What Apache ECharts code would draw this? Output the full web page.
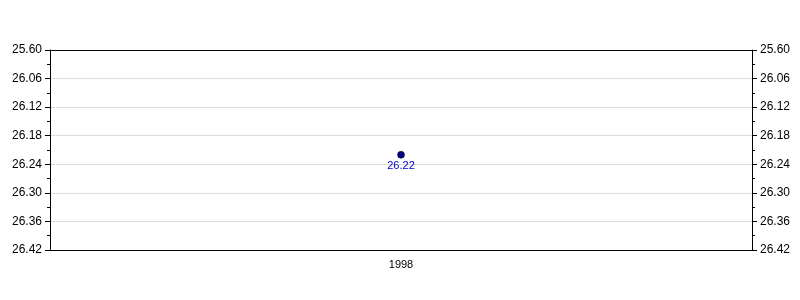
<!DOCTYPE html>
<html><head><meta charset="utf-8">
<script src="https://cdn.jsdelivr.net/npm/echarts@6/dist/echarts.min.js"></script>
<style>html,body{margin:0;padding:0;background:#fff}#c{width:800px;height:300px}</style>
</head><body><div id="c"></div>
<script>
const categories = ["1998"];
const values = [26.22];
const tickLabels = ["25.60","26.06","26.12","26.18","26.24","26.30","26.36","26.42"];
const yMin = 26.00, yMax = 26.42, yStep = 0.06;

function fmt(v){
  const i = Math.round((v - yMin) / yStep);
  return tickLabels[i] !== undefined ? tickLabels[i] : '';
}
const font = 'Liberation Sans, Arial, sans-serif';
function yAxis(pos, showGrid){
  return {
    type:'value', position:pos, inverse:true, min:yMin, max:yMax, interval:yStep,
    axisLine:{show:true, lineStyle:{color:'#000', width:1}},
    axisTick:{show:true, length:5, lineStyle:{color:'#000'}},
    minorTick:{show:true, splitNumber:2, length:3, lineStyle:{color:'#000'}},
    splitLine:{show:showGrid, lineStyle:{color:'#dcdcdc', width:1}},
    axisLabel:{formatter:fmt, color:'#000', fontSize:12, fontFamily:font, margin:8}
  };
}
const chart = echarts.init(document.getElementById('c'), null, {renderer:'canvas'});
chart.setOption({
  animation:false,
  grid:{left:50, right:48, top:50, bottom:50, containLabel:false},
  xAxis:[{
    type:'category', data:categories, position:'bottom', boundaryGap:true,
    axisLine:{lineStyle:{color:'#000'}},
    axisTick:{alignWithLabel:true, length:5, lineStyle:{color:'#000'}},
    axisLabel:{color:'#000', fontSize:11, fontFamily:font, margin:9}
  },{
    type:'category', data:categories, position:'top',
    axisLine:{show:true, lineStyle:{color:'#000'}},
    axisTick:{show:false}, axisLabel:{show:false}
  }],
  yAxis:[yAxis('left', true), yAxis('right', false)],
  series:[{
    type:'scatter', data:values, xAxisIndex:0, yAxisIndex:0,
    symbol:'circle', symbolSize:7,
    itemStyle:{color:'#000080', borderColor:'#000', borderWidth:0.5, opacity:1},
    label:{show:true, position:'bottom', distance:2, color:'#0000cc', fontSize:11, fontFamily:font,
      formatter:p=>p.value.toFixed(2)}
  }]
});
</script></body></html>
